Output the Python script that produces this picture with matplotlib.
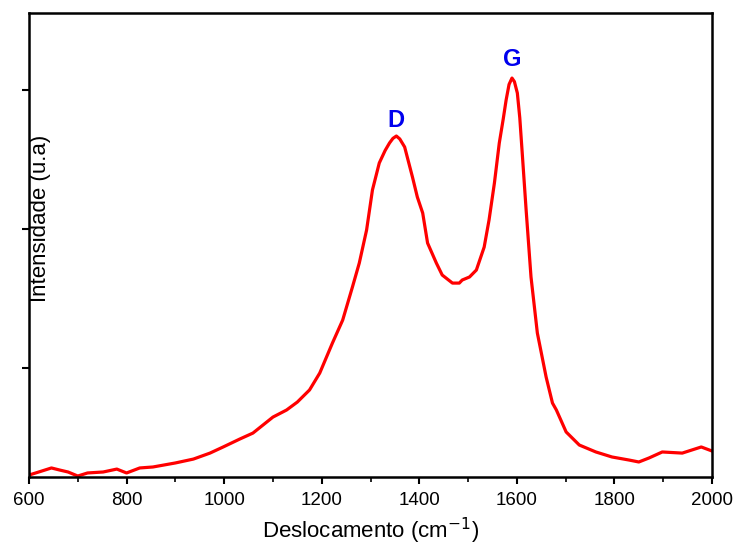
import matplotlib
matplotlib.use("Agg")
import matplotlib.pyplot as plt
from matplotlib.ticker import MultipleLocator, NullFormatter

# Raman spectrum values
wavenumber = [600, 620, 646, 663, 680, 700, 720, 752, 780, 800, 827, 854, 900, 937,
              971, 998, 1032, 1059, 1100, 1128, 1150, 1175, 1196, 1222, 1243, 1263,
              1277, 1292, 1304, 1318, 1330, 1339, 1346, 1353, 1360, 1370, 1386, 1396,
              1407, 1417, 1435, 1447, 1468, 1482, 1488, 1503, 1517, 1533, 1543, 1554,
              1564, 1572, 1578, 1584, 1590, 1595, 1601, 1606, 1611, 1619, 1629, 1642,
              1660, 1673, 1681, 1701, 1728, 1762, 1795, 1830, 1850, 1871, 1898, 1939,
              1978, 2000]
intensity = [230, 252, 281, 266, 252, 223, 245, 252, 273, 245, 281, 288, 317, 345,
             388, 432, 489, 532, 647, 698, 755, 842, 964, 1180, 1345, 1583,
             1755, 1993, 2281, 2475, 2565, 2619, 2652, 2669, 2648, 2590, 2374, 2230,
             2115, 1899, 1755, 1669, 1611, 1611, 1633, 1655, 1705, 1870, 2065, 2331,
             2619, 2790, 2928, 3040, 3086, 3060, 2978, 2800, 2547, 2137, 1655, 1252,
             935, 748, 698, 540, 446, 396, 360, 338, 324, 353, 396, 388,
             432, 403]

peak_labels = ["D", "G"]
peak_x = [1353, 1590]
peak_label_y = [2784, 3216]

x_ticks = [600, 800, 1000, 1200, 1400, 1600, 1800, 2000]
y_ticks = [1000, 2000, 3000]

plt.rcParams['font.family'] = ['Liberation Sans', 'DejaVu Sans']

fig = plt.figure(figsize=(7.38, 5.49), dpi=100)
ax = fig.add_axes([29/738, 1 - 477/549, (712 - 29)/738, (477 - 13)/549])

ax.plot(wavenumber, intensity, color='#ff0000', lw=2.3, solid_joinstyle='round')

for lab, px, py in zip(peak_labels, peak_x, peak_label_y):
    ax.text(px, py, lab, color='#0000ee', fontsize=17, fontweight='bold',
            ha='center', va='center')

ax.set_xlim(600, 2000)
ax.set_ylim(216, 3554)
ax.set_xticks(x_ticks)
ax.xaxis.set_minor_locator(MultipleLocator(100))
ax.set_yticks(y_ticks)
ax.yaxis.set_major_formatter(NullFormatter())
ax.tick_params(axis='both', which='major', direction='out', length=5, width=1.5,
               labelsize=13.5, pad=6)
ax.tick_params(axis='x', which='minor', direction='out', length=3.5, width=1.2)
ax.tick_params(axis='y', which='minor', left=False)
for s in ax.spines.values():
    s.set_linewidth(1.8)

ax.set_xlabel('Deslocamento (cm$^{-1}$)', fontsize=16, labelpad=5)
fig.text(41/738, 1 - 218/549, 'Intensidade (u.a)', rotation=90, fontsize=16,
         ha='center', va='center')

fig.savefig('out.png', dpi=100)
